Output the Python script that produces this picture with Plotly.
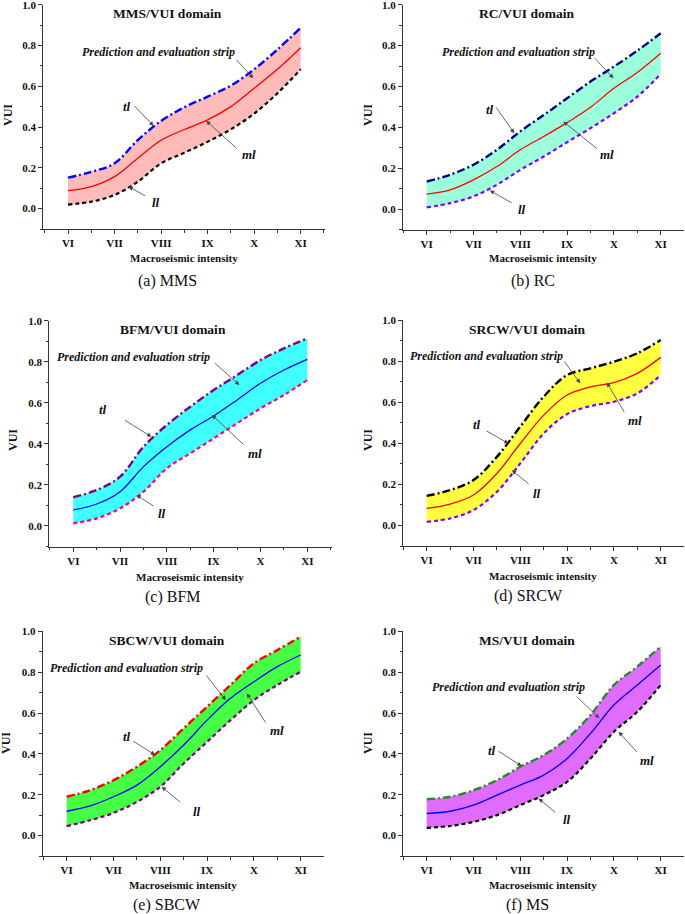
import plotly.graph_objects as go

# ---------------- data ----------------
intensity = [6, 6.5, 7, 7.5, 8, 8.5, 9, 9.5, 10, 10.5, 11]
tick_vals = [6, 7, 8, 9, 10, 11]
tick_text = ["VI", "VII", "VIII", "IX", "X", "XI"]
building_types = ["MMS", "RC", "BFM", "SRCW", "SBCW", "MS"]
captions = ["(a) MMS", "(b) RC", "(c) BFM", "(d) SRCW", "(e) SBCW", "(f) MS"]

mms_tl = [0.152, 0.180, 0.222, 0.336, 0.430, 0.497, 0.549, 0.603, 0.683, 0.780, 0.887]
mms_ml = [0.088, 0.108, 0.157, 0.247, 0.335, 0.388, 0.435, 0.500, 0.590, 0.683, 0.789]
mms_ll = [0.020, 0.034, 0.067, 0.132, 0.222, 0.274, 0.328, 0.389, 0.466, 0.566, 0.683]

rc_tl = [0.134, 0.168, 0.217, 0.290, 0.380, 0.460, 0.542, 0.624, 0.697, 0.775, 0.860]
rc_ml = [0.073, 0.094, 0.143, 0.208, 0.290, 0.355, 0.423, 0.498, 0.591, 0.668, 0.762]
rc_ll = [0.008, 0.029, 0.062, 0.119, 0.192, 0.257, 0.327, 0.396, 0.469, 0.550, 0.661]

bfm_tl = [0.140, 0.175, 0.240, 0.386, 0.492, 0.581, 0.662, 0.735, 0.808, 0.865, 0.914]
bfm_ml = [0.078, 0.107, 0.167, 0.289, 0.386, 0.468, 0.536, 0.614, 0.695, 0.760, 0.812]
bfm_ll = [0.013, 0.037, 0.086, 0.167, 0.281, 0.354, 0.427, 0.500, 0.573, 0.638, 0.711]

srcw_tl = [0.144, 0.172, 0.221, 0.334, 0.481, 0.627, 0.732, 0.765, 0.797, 0.838, 0.903]
srcw_ml = [0.083, 0.104, 0.148, 0.253, 0.399, 0.537, 0.635, 0.675, 0.695, 0.740, 0.818]
srcw_ll = [0.018, 0.034, 0.075, 0.164, 0.302, 0.448, 0.542, 0.581, 0.602, 0.643, 0.732]

sbcw_tl = [0.190, 0.222, 0.271, 0.337, 0.418, 0.525, 0.631, 0.737, 0.843, 0.908, 0.974]
sbcw_ml = [0.119, 0.145, 0.190, 0.247, 0.337, 0.443, 0.565, 0.672, 0.753, 0.827, 0.884]
sbcw_ll = [0.046, 0.075, 0.111, 0.165, 0.239, 0.353, 0.459, 0.565, 0.663, 0.737, 0.802]

ms_tl = [0.178, 0.190, 0.222, 0.271, 0.337, 0.394, 0.475, 0.590, 0.737, 0.827, 0.925]
ms_ml = [0.108, 0.119, 0.149, 0.198, 0.247, 0.296, 0.377, 0.500, 0.639, 0.737, 0.835]
ms_ll = [0.038, 0.047, 0.067, 0.100, 0.149, 0.198, 0.263, 0.377, 0.508, 0.606, 0.737]

series_tl = [mms_tl, rc_tl, bfm_tl, srcw_tl, sbcw_tl, ms_tl]
series_ml = [mms_ml, rc_ml, bfm_ml, srcw_ml, sbcw_ml, ms_ml]
series_ll = [mms_ll, rc_ll, bfm_ll, srcw_ll, sbcw_ll, ms_ll]

# ---------------- styles / layout ----------------
W, H = 685, 914
fill_colors = ["#FFBABA", "#9CFFDC", "#40FFFF", "#FFFF40", "#44FF44", "#DF6BFF"]
tl_colors = ["#0000FF", "#000080", "#800080", "#000000", "#FF0000", "#228B22"]
ml_colors = ["#FF0000", "#FF0000", "#0000FF", "#FF0000", "#0000FF", "#0000FF"]
ll_colors = ["#000000", "#8000FF", "#FF0080", "#8000FF", "#800080", "#000000"]

# plot-area geometry in pixels: x0, x1, px of VI, px of XI, y top(1.0), y bottom(-0.1)
geom = [
    (43.3, 325.0, 68.0, 300.7, 4.7, 229.0),
    (403.0, 684.0, 426.7, 660.7, 4.7, 229.5),
    (49.3, 331.7, 73.3, 307.3, 320.7, 546.5),
    (403.3, 684.0, 426.7, 660.7, 320.0, 546.0),
    (42.7, 324.0, 66.7, 300.7, 631.3, 856.0),
    (403.3, 684.0, 426.7, 660.7, 631.3, 856.0),
]
# axis-title / caption pixel positions (centres)
xtitle_px = [(184, 258), (543, 258), (190, 577), (543, 576), (183, 885), (543, 885)]
ytitle_px = [(8, 115), (368, 115), (13, 440), (368, 440), (6, 743), (368, 743)]
caption_px = [(167, 281), (533, 281), (173, 597), (528, 596), (167, 905), (527, 905)]

# annotation positions in data coords: (text, x, y, tail_x, tail_y, head_x, head_y)
ann = [
    [("strip", 7.94, 0.766, 9.59, 0.737, 9.98, 0.639),
     ("tl", 7.27, 0.500, 7.40, 0.510, 7.84, 0.405),
     ("ml", 9.88, 0.263, 9.66, 0.288, 8.97, 0.430),
     ("ll", 7.89, 0.031, 7.69, 0.059, 7.30, 0.108)],
    [("strip", 7.96, 0.767, 9.56, 0.746, 9.99, 0.640),
     ("tl", 7.35, 0.485, 7.46, 0.505, 7.87, 0.371),
     ("ml", 9.85, 0.265, 9.67, 0.290, 8.92, 0.428),
     ("ll", 8.03, 0.000, 7.85, 0.026, 7.35, 0.091)],
    [("strip", 7.28, 0.821, 8.99, 0.800, 9.55, 0.687),
     ("tl", 6.64, 0.565, 7.07, 0.519, 7.67, 0.435),
     ("ml", 9.88, 0.354, 9.67, 0.390, 8.96, 0.541),
     ("ll", 7.89, 0.062, 7.75, 0.091, 7.35, 0.151)],
    [("strip", 7.28, 0.825, 8.92, 0.805, 9.28, 0.692),
     ("tl", 7.07, 0.489, 7.25, 0.464, 7.75, 0.399),
     ("ml", 10.45, 0.513, 10.24, 0.545, 9.85, 0.695),
     ("ll", 8.35, 0.156, 8.21, 0.196, 7.82, 0.269)],
    [("strip", 7.28, 0.822, 8.96, 0.791, 9.40, 0.663),
     ("tl", 7.28, 0.487, 7.39, 0.467, 7.89, 0.394),
     ("ml", 10.49, 0.516, 10.27, 0.546, 9.85, 0.696),
     ("ll", 8.78, 0.116, 8.46, 0.157, 8.03, 0.239)],
    [("strip", 7.75, 0.725, 9.17, 0.688, 9.69, 0.574),
     ("tl", 7.39, 0.418, 7.50, 0.418, 8.03, 0.340),
     ("ml", 10.70, 0.366, 10.52, 0.402, 10.10, 0.508),
     ("ll", 8.99, 0.078, 8.78, 0.108, 8.39, 0.181)],
]

SERIF = "Liberation Serif, Times New Roman, serif"

fig = go.Figure()
annotations = []
layout_axes = {}


def centred(**kw):
    d = dict(showarrow=False, xanchor="center", yanchor="middle")
    d.update(kw)
    return d


for i in range(6):
    x0, x1, p6, p11, yt, yb = geom[i]
    sp = (p11 - p6) / 5.0
    xr = [6 - (p6 - x0) / sp, 11 + (x1 - p11) / sp]
    sfx = "" if i == 0 else str(i + 1)
    xa, ya = "x" + sfx, "y" + sfx

    # lower line then upper line filled down to it
    fig.add_trace(go.Scatter(x=intensity, y=series_ll[i], mode="lines",
                             line=dict(color="rgba(0,0,0,0)", width=0, shape="spline"),
                             xaxis=xa, yaxis=ya, showlegend=False, hoverinfo="skip"))
    fig.add_trace(go.Scatter(x=intensity, y=series_tl[i], mode="lines", fill="tonexty",
                             fillcolor=fill_colors[i],
                             line=dict(color="rgba(0,0,0,0)", width=0, shape="spline"),
                             xaxis=xa, yaxis=ya, showlegend=False, hoverinfo="skip"))
    fig.add_trace(go.Scatter(x=intensity, y=series_ll[i], mode="lines",
                             line=dict(color=ll_colors[i], width=2.2, dash="4px,3px", shape="spline"),
                             xaxis=xa, yaxis=ya, showlegend=False, hoverinfo="skip"))
    fig.add_trace(go.Scatter(x=intensity, y=series_tl[i], mode="lines",
                             line=dict(color=tl_colors[i], width=2.4, dash="8px,3px,2px,3px", shape="spline"),
                             xaxis=xa, yaxis=ya, showlegend=False, hoverinfo="skip"))
    fig.add_trace(go.Scatter(x=intensity, y=series_ml[i], mode="lines",
                             line=dict(color=ml_colors[i], width=1.3, shape="spline"),
                             xaxis=xa, yaxis=ya, showlegend=False, hoverinfo="skip"))

    xkey = "xaxis" + sfx
    ykey = "yaxis" + sfx
    layout_axes[xkey] = dict(
        domain=[x0 / W, x1 / W], anchor=ya, range=xr,
        tickmode="array", tickvals=tick_vals, ticktext=tick_text,
        ticks="outside", ticklen=4, tickwidth=1, tickcolor="#333",
        minor=dict(ticks="outside", ticklen=2.5, tickwidth=1, tickcolor="#333",
                   tickmode="linear", tick0=5.5, dtick=1),
        showline=True, linecolor="#333", linewidth=1.2,
        showgrid=False, zeroline=False, automargin=False,
        ticklabeloverflow="allow",
        tickfont=dict(family=SERIF, size=11, color="#111", weight="bold"),
        fixedrange=True,
    )
    layout_axes[ykey] = dict(
        domain=[1 - yb / H, 1 - yt / H], anchor=xa, range=[-0.1, 1.0],
        tickmode="linear", tick0=0, dtick=0.2, tickformat=".1f",
        ticks="outside", ticklen=4, tickwidth=1, tickcolor="#333",
        minor=dict(ticks="outside", ticklen=2.5, tickwidth=1, tickcolor="#333",
                   tickmode="linear", tick0=-0.1, dtick=0.2),
        showline=True, linecolor="#333", linewidth=1.2,
        showgrid=False, zeroline=False, automargin=False,
        ticklabeloverflow="allow",
        tickfont=dict(family=SERIF, size=11, color="#111", weight="bold"),
        fixedrange=True,
    )

    # panel title
    annotations.append(centred(x=8.14, y=0.955, xref=xa, yref=ya,
                               text="<b>%s/VUI domain</b>" % building_types[i],
                               font=dict(family=SERIF, size=13.5, color="#111")))
    # axis titles and caption
    annotations.append(centred(x=xtitle_px[i][0] / W, y=1 - xtitle_px[i][1] / H, xref="paper", yref="paper",
                               text="<b>Macroseismic intensity</b>",
                               font=dict(family=SERIF, size=11, color="#111")))
    annotations.append(centred(x=ytitle_px[i][0] / W, y=1 - ytitle_px[i][1] / H, xref="paper", yref="paper",
                               text="<b>VUI</b>", textangle=-90,
                               font=dict(family=SERIF, size=12, color="#111")))
    annotations.append(centred(x=caption_px[i][0] / W, y=1 - caption_px[i][1] / H, xref="paper", yref="paper",
                               text=captions[i],
                               font=dict(family=SERIF, size=16, color="#111")))

    for (lab, tx, ty, ax_, ay_, hx, hy) in ann[i]:
        txt = "Prediction and evaluation strip" if lab == "strip" else lab
        annotations.append(centred(x=tx, y=ty, xref=xa, yref=ya,
                                   text="<b><i>%s</i></b>" % txt,
                                   font=dict(family=SERIF, size=12 if lab == "strip" else 13, color="#111")))
        annotations.append(dict(x=hx, y=hy, ax=ax_, ay=ay_, xref=xa, yref=ya, axref=xa, ayref=ya,
                                text="", showarrow=True, arrowhead=2, arrowsize=1.1,
                                arrowwidth=0.8, arrowcolor="#444", standoff=0, startstandoff=0))

fig.update_layout(
    width=W, height=H,
    margin=dict(l=0, r=0, t=0, b=0),
    paper_bgcolor="white", plot_bgcolor="white",
    template="none",
    showlegend=False,
    annotations=annotations,
    **layout_axes,
)

fig.write_html("out.html",
               config={"displayModeBar": False},
               post_script="document.body.style.margin='0px';document.body.style.overflow='hidden';")
